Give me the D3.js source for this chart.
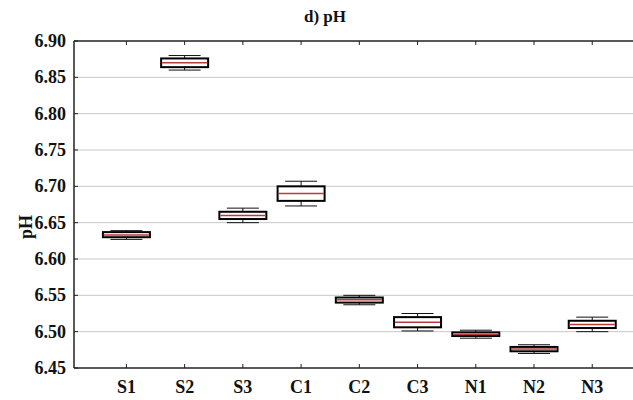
<!DOCTYPE html>
<html>
<head>
    <meta charset="utf-8">
    <title>d) pH</title>
    <script src="https://d3js.org/d3.v7.min.js"></script>
    <style>
        body {
            margin: 0;
            background: #fff;
        }
        svg {
            display: block;
            font-family: "Liberation Serif", serif;
            font-weight: bold;
            fill: #111;
        }
        .grid line {
            stroke: #c8c8c8;
            stroke-width: 1px;
        }
        .axis-line {
            stroke: #222;
            stroke-width: 1.5px;
        }
        .tick-mark {
            stroke: #222;
            stroke-width: 1px;
        }
        .whisker {
            stroke: #111;
            stroke-width: 1px;
        }
        .box {
            fill: #fff;
            stroke: #000;
            stroke-width: 2px;
        }
        .median {
            stroke: #b83a3a;
            stroke-width: 1.5px;
        }
    </style>
</head>
<body>
    <svg id="chart" width="633" height="400"></svg>

    <script>
        // 数据
        const categories = ["S1", "S2", "S3", "C1", "C2", "C3", "N1", "N2", "N3"];
        const whiskerLow  = [6.627, 6.860, 6.650, 6.673, 6.537, 6.501, 6.491, 6.470, 6.500];
        const boxLow      = [6.630, 6.864, 6.655, 6.680, 6.540, 6.506, 6.494, 6.473, 6.505];
        const medians     = [6.633, 6.870, 6.660, 6.690, 6.544, 6.513, 6.496, 6.476, 6.510];
        const boxHigh     = [6.637, 6.876, 6.665, 6.700, 6.547, 6.520, 6.499, 6.479, 6.515];
        const whiskerHigh = [6.639, 6.880, 6.670, 6.707, 6.550, 6.525, 6.502, 6.482, 6.520];
        const yTicks = [6.45, 6.50, 6.55, 6.60, 6.65, 6.70, 6.75, 6.80, 6.85, 6.90];

        const svg = d3.select("#chart");
        const plotL = 74, plotR = 633, plotT = 41, plotB = 368;

        const x = d3.scaleLinear().domain([0.1, 9.7]).range([plotL, plotR]);
        const y = d3.scaleLinear().domain([6.45, 6.90]).range([plotB, plotT]);

        const rows = categories.map((c, i) => ({
            name: c,
            pos: i + 1,
            wl: whiskerLow[i], bl: boxLow[i], med: medians[i],
            bh: boxHigh[i], wh: whiskerHigh[i]
        }));

        // 网格线
        svg.append("g").attr("class", "grid")
            .selectAll("line")
            .data(yTicks.slice(1, -1))
            .enter().append("line")
            .attr("x1", plotL).attr("x2", plotR)
            .attr("y1", d => y(d)).attr("y2", d => y(d));

        // 坐标轴线
        svg.append("line").attr("class", "axis-line")
            .attr("x1", plotL).attr("x2", plotL).attr("y1", plotT).attr("y2", plotB);
        svg.append("line").attr("class", "axis-line")
            .attr("x1", plotL).attr("x2", plotR).attr("y1", plotB).attr("y2", plotB);
        svg.append("line").attr("class", "axis-line")
            .attr("x1", plotL).attr("x2", plotR).attr("y1", plotT).attr("y2", plotT);

        // y 轴刻度
        svg.selectAll(".ytick")
            .data(yTicks)
            .enter().append("line")
            .attr("class", "tick-mark")
            .attr("x1", plotL).attr("x2", plotL + 4)
            .attr("y1", d => y(d)).attr("y2", d => y(d));

        svg.selectAll(".ylabel")
            .data(yTicks)
            .enter().append("text")
            .attr("x", plotL - 8)
            .attr("y", d => y(d) + 6)
            .attr("text-anchor", "end")
            .attr("font-size", 18)
            .text(d => d3.format(".2f")(d));

        // x 轴刻度（上下两边，朝内）
        svg.selectAll(".xtick-b")
            .data(rows)
            .enter().append("line")
            .attr("class", "tick-mark")
            .attr("x1", d => x(d.pos)).attr("x2", d => x(d.pos))
            .attr("y1", plotB).attr("y2", plotB - 4);
        svg.selectAll(".xtick-t")
            .data(rows)
            .enter().append("line")
            .attr("class", "tick-mark")
            .attr("x1", d => x(d.pos)).attr("x2", d => x(d.pos))
            .attr("y1", plotT).attr("y2", plotT + 4);

        svg.selectAll(".xlabel")
            .data(rows)
            .enter().append("text")
            .attr("x", d => x(d.pos))
            .attr("y", 393)
            .attr("text-anchor", "middle")
            .attr("font-size", 18)
            .text(d => d.name);

        // 箱线图
        const boxW = 47, capW = 32;
        const g = svg.selectAll(".bp")
            .data(rows)
            .enter().append("g");

        g.append("line").attr("class", "whisker")
            .attr("x1", d => x(d.pos)).attr("x2", d => x(d.pos))
            .attr("y1", d => y(d.wh)).attr("y2", d => y(d.wl));
        g.append("line").attr("class", "whisker")
            .attr("x1", d => x(d.pos) - capW / 2).attr("x2", d => x(d.pos) + capW / 2)
            .attr("y1", d => y(d.wh)).attr("y2", d => y(d.wh));
        g.append("line").attr("class", "whisker")
            .attr("x1", d => x(d.pos) - capW / 2).attr("x2", d => x(d.pos) + capW / 2)
            .attr("y1", d => y(d.wl)).attr("y2", d => y(d.wl));
        g.append("rect").attr("class", "box")
            .attr("x", d => x(d.pos) - boxW / 2)
            .attr("width", boxW)
            .attr("y", d => y(d.bh))
            .attr("height", d => y(d.bl) - y(d.bh));
        g.append("line").attr("class", "median")
            .attr("x1", d => x(d.pos) - boxW / 2 + 1).attr("x2", d => x(d.pos) + boxW / 2 - 1)
            .attr("y1", d => y(d.med)).attr("y2", d => y(d.med));

        // 标题
        svg.append("text")
            .attr("x", 325).attr("y", 22)
            .attr("text-anchor", "middle")
            .attr("font-size", 17)
            .text("d) pH");

        // y 轴标题
        svg.append("text")
            .attr("transform", "translate(32,227) rotate(-90)")
            .attr("text-anchor", "middle")
            .attr("font-size", 18)
            .text("pH");
    </script>
</body>
</html>
